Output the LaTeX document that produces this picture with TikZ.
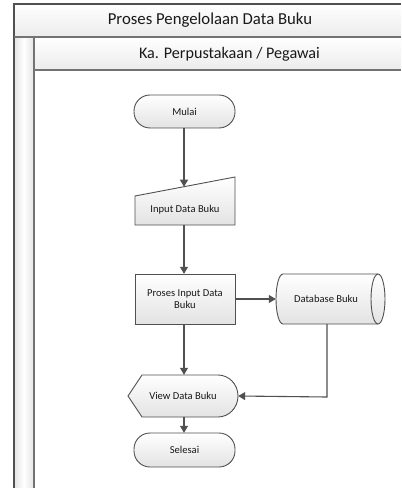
\documentclass[tikz,border=0pt]{standalone}
\usepackage{fontspec}
\setmainfont{Carlito}
\usetikzlibrary{arrows.meta}
\definecolor{edge}{HTML}{505050}
\definecolor{fillb}{HTML}{E3E3E3}
\tikzset{
  shp/.style={draw=edge, line width=0.9bp, top color=white, bottom color=fillb},
  lbl/.style={font=\fontsize{10.6}{12}\selectfont, align=center, text=black!90},
  conn/.style={draw=edge, line width=1.1bp, -{Triangle[width=8bp,length=7bp]}},
  hdr/.style={text=black!90}
}
\begin{document}
\begin{tikzpicture}[x=1bp,y=1bp]
\useasboundingbox (0,0) rectangle (401,-488);
% pool frame
\shade[top color=white, bottom color=fillb!70] (14,-4) rectangle (401,-37);
\shade[left color=fillb, right color=fillb, middle color=white] (14,-37) rectangle (34,-488);
\shade[top color=white, bottom color=fillb!70] (34,-37) rectangle (401,-70);
\draw[edge, line width=1.4bp] (401,-4) -- (14,-4) -- (14,-488);
\draw[edge!80, line width=1.1bp] (14,-37) -- (401,-37);
\draw[edge!80, line width=1.1bp] (34,-37) -- (34,-488);
\draw[edge!80, line width=1.4bp] (34,-70) -- (401,-70);
\node[hdr, font=\fontsize{16.8}{19}\selectfont] (pool) at (210,-20) {Proses Pengelolaan Data Buku};
\node[hdr, font=\fontsize{16.2}{19}\selectfont] (lane) at (229.5,-54) {Ka. Perpustakaan / Pegawai};

% Mulai
\draw[shp, rounded corners=16bp] (134,-95) rectangle (235,-128);
\node[lbl, minimum width=101bp, minimum height=33bp, inner sep=0pt] (mulai) at (184.5,-111.5) {Mulai};

% Input Data Buku (manual input)
\draw[shp] (135,-196) -- (235,-177) -- (235,-225) -- (135,-225) -- cycle;
\node[lbl, minimum width=100bp, minimum height=30bp, inner sep=0pt] (input) at (185,-210) {Input Data Buku};
\coordinate (inputtop) at (184,-186.7);

% Proses Input Data Buku
\draw[shp] (135,-274) rectangle (235,-324);
\node[lbl, minimum width=100bp, minimum height=50bp, inner sep=0pt] (proses) at (185,-299) {Proses Input Data\\Buku};

% Database Buku (direct data)
\draw[shp] (378,-274) -- (283,-274) arc[start angle=90, end angle=270, x radius=7, y radius=25]
  -- (378,-324) arc[start angle=-90, end angle=90, x radius=7, y radius=25] -- cycle;
\draw[edge, line width=0.9bp] (378,-274) arc[start angle=90, end angle=270, x radius=7, y radius=25];
\node[lbl, minimum width=109bp, minimum height=50bp, inner sep=0pt] (db) at (330.5,-299) {};
\node[lbl] (dbtext) at (326,-299) {Database Buku};
\coordinate (dbbot) at (327,-324);
\coordinate (dbcorner) at (327,-397);

% View Data Buku (display)
\draw[shp] (128,-396) -- (142,-375) -- (218,-375) arc[start angle=90, end angle=-90, x radius=20, y radius=21]
  -- (142,-417) -- cycle;
\node[lbl, minimum width=110bp, minimum height=42bp, inner sep=0pt] (view) at (183,-396) {View Data Buku};

% Selesai
\draw[shp, rounded corners=16bp] (134,-433) rectangle (235,-467);
\node[lbl, minimum width=101bp, minimum height=34bp, inner sep=0pt] (selesai) at (184.5,-450) {Selesai};

% connectors
\draw[conn] (mulai.south -| inputtop) -- (inputtop);
\draw[conn] (input.south -| inputtop) -- (proses.north -| inputtop);
\draw[conn] (proses.east) -- (db.west);
\draw[conn] (proses.south -| inputtop) -- (view.north -| inputtop);
\draw[conn] (dbbot) -- (dbcorner) -- (view.east);
\draw[conn] (view.south -| inputtop) -- (selesai.north -| inputtop);
\end{tikzpicture}
\end{document}
